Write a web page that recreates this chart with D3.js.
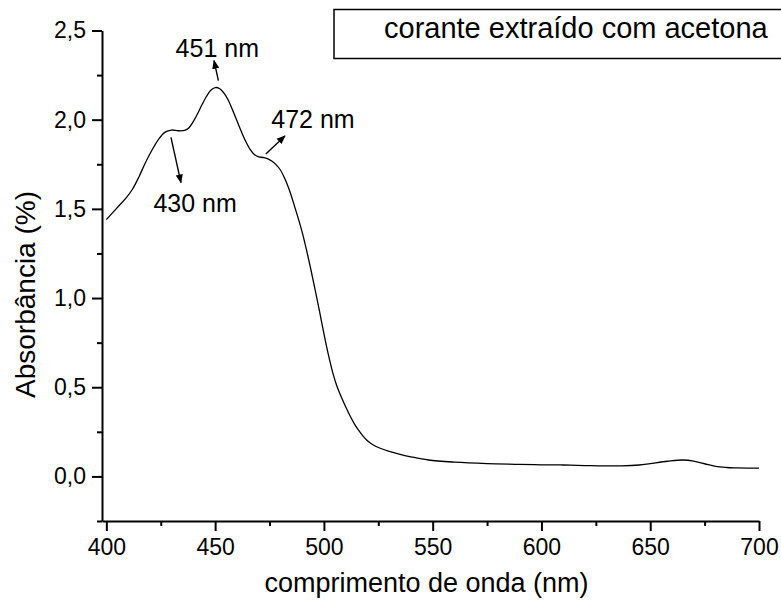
<!DOCTYPE html>
<html>
<head>
<meta charset="utf-8">
<script src="https://cdn.jsdelivr.net/npm/d3@7"></script>
<style>
    body { margin: 0; background: white; }
    text { font-family: "Liberation Sans", Arial, sans-serif; fill: black; }
</style>
</head>
<body>
<svg id="chart" width="781" height="603"></svg>
<script>
// spectrum
var wavelength = [400, 403, 406, 409, 412, 415, 418, 421, 424, 427, 430, 433, 436, 438, 440, 442, 444, 446, 448, 450,
    452, 454, 456, 458, 460, 462, 464, 466, 468, 470, 472, 474, 476, 478, 480, 482, 484, 486, 488, 490,
    492, 494, 496, 498, 500, 502, 504, 506, 508, 510, 512, 514, 516, 518, 520, 522, 525, 530, 535, 540,
    548, 560, 575, 590, 600, 610, 620, 637, 645, 650, 658, 665, 670, 675, 680, 685, 690, 700];
var absorbance = [1.44, 1.48, 1.52, 1.56, 1.61, 1.68, 1.76, 1.83, 1.89, 1.93, 1.942, 1.938, 1.94, 1.955, 1.99, 2.035, 2.085, 2.13, 2.165, 2.18,
    2.175, 2.15, 2.11, 2.055, 1.995, 1.935, 1.88, 1.835, 1.805, 1.792, 1.788, 1.782, 1.768, 1.748, 1.718, 1.67, 1.61, 1.535, 1.455, 1.37,
    1.27, 1.16, 1.045, 0.925, 0.80, 0.685, 0.585, 0.505, 0.445, 0.39, 0.34, 0.295, 0.258, 0.226, 0.2, 0.182, 0.162, 0.14, 0.124, 0.11,
    0.092, 0.08, 0.072, 0.068, 0.065, 0.064, 0.061, 0.059, 0.064, 0.072, 0.085, 0.092, 0.086, 0.071, 0.056, 0.05, 0.048, 0.046];

var xTicks = [400, 450, 500, 550, 600, 650, 700];
var yTicks = [0, 0.5, 1.0, 1.5, 2.0, 2.5];

// peak labels and their arrows
var peakLabels = ["451 nm", "472 nm", "430 nm"];
var peakLabelX = [451, 495, 440.8];
var peakLabelY = [2.351, 1.952, 1.484];
var arrowFromX = [451.5, 473.3, 429.7];
var arrowFromY = [2.219, 1.808, 1.901];
var arrowToX = [449.5, 482.1, 434.3];
var arrowToY = [2.331, 1.909, 1.647];

var legendText = "corante extraído com acetona";

var svg = d3.select("#chart");

var x = d3.scaleLinear().domain([398, 700]).range([102, 759]);
var y = d3.scaleLinear().domain([-0.25, 2.5]).range([521, 30.5]);

var comma = d3.formatLocale({decimal: ",", thousands: ".", grouping: [3], currency: ["", ""]}).format(".1f");

//arrow head
svg.append("defs").append("marker")
    .attr("id", "head")
    .attr("viewBox", "0 0 10 10")
    .attr("refX", 9)
    .attr("refY", 5)
    .attr("markerWidth", 9)
    .attr("markerHeight", 9)
    .attr("markerUnits", "userSpaceOnUse")
    .attr("orient", "auto")
    .append("path")
    .attr("d", "M0,1 L10,5 L0,9 Z")
    .attr("fill", "black");

//minor ticks first so the major ones sit on top
var xMinor = svg.append("g")
    .attr("transform", "translate(0," + y(-0.25) + ")")
    .call(d3.axisBottom(x).tickValues(d3.range(425, 700, 50)).tickSize(5).tickFormat(""));
var yMinor = svg.append("g")
    .attr("transform", "translate(" + x(398) + ",0)")
    .call(d3.axisLeft(y).tickValues([-0.25, 0.25, 0.75, 1.25, 1.75, 2.25]).tickSize(5).tickFormat(""));

//bottom axis
var xAxis = svg.append("g")
    .attr("transform", "translate(0," + y(-0.25) + ")")
    .call(d3.axisBottom(x).tickValues(xTicks).tickSize(10).tickSizeOuter(0).tickPadding(8));
xAxis.selectAll("text").attr("font-size", "23px");

//left axis
var yAxis = svg.append("g")
    .attr("transform", "translate(" + x(398) + ",0)")
    .call(d3.axisLeft(y).tickValues(yTicks).tickSize(10).tickSizeOuter(0).tickPadding(6).tickFormat(comma));
yAxis.selectAll("text").attr("font-size", "23px");

[xMinor, yMinor, xAxis, yAxis].forEach(g => {
    g.selectAll("line").attr("stroke", "black").attr("stroke-width", 2);
    g.selectAll(".domain").attr("stroke", "black").attr("stroke-width", 2);
    g.selectAll("text").attr("font-family", null);
});
xMinor.select(".domain").remove();
yMinor.select(".domain").remove();

//axis titles
svg.append("text")
    .attr("x", (x(398) + x(700)) / 2 - 4)
    .attr("y", 592)
    .attr("text-anchor", "middle")
    .attr("font-size", "27px")
    .text("comprimento de onda (nm)");

svg.append("text")
    .attr("transform", "translate(35," + y(1.02) + ") rotate(-90)")
    .attr("text-anchor", "middle")
    .attr("font-size", "28px")
    .text("Absorbância (%)");

//the spectrum
var spectrum = wavelength.map((w, i) => [w, absorbance[i]]);
svg.append("path")
    .datum(spectrum)
    .attr("fill", "none")
    .attr("stroke", "black")
    .attr("stroke-width", 1.3)
    .attr("d", d3.line().x(d => x(d[0])).y(d => y(d[1])).curve(d3.curveCatmullRom.alpha(0.5)));

//peak labels
svg.selectAll(".peak-label")
    .data(peakLabels).enter()
    .append("text")
    .attr("class", "peak-label")
    .attr("x", (d, i) => x(peakLabelX[i]))
    .attr("y", (d, i) => y(peakLabelY[i]))
    .attr("text-anchor", "middle")
    .attr("font-size", "25px")
    .text(d => d);

svg.selectAll(".peak-arrow")
    .data(peakLabels).enter()
    .append("line")
    .attr("class", "peak-arrow")
    .attr("x1", (d, i) => x(arrowFromX[i]))
    .attr("y1", (d, i) => y(arrowFromY[i]))
    .attr("x2", (d, i) => x(arrowToX[i]))
    .attr("y2", (d, i) => y(arrowToY[i]))
    .attr("stroke", "black")
    .attr("stroke-width", 1.4)
    .attr("marker-end", "url(#head)");

//legend box, runs off the right edge
svg.append("rect")
    .attr("x", 334)
    .attr("y", 9.5)
    .attr("width", 480)
    .attr("height", 49)
    .attr("fill", "white")
    .attr("stroke", "black")
    .attr("stroke-width", 1.5);
svg.append("text")
    .attr("x", 384)
    .attr("y", 37.5)
    .attr("font-size", "29px")
    .text(legendText);
</script>
</body>
</html>
